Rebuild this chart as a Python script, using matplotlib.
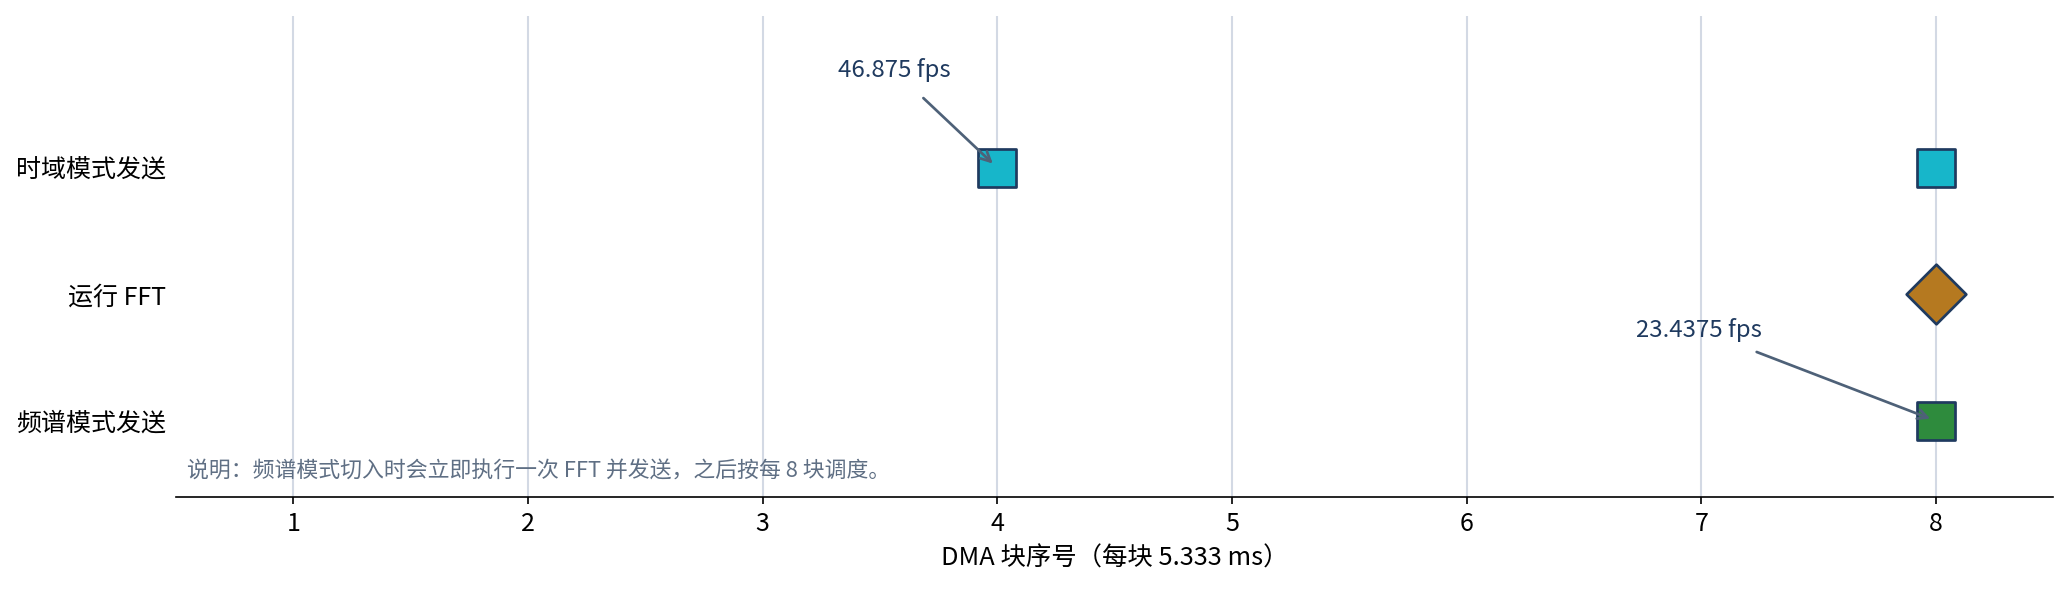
import matplotlib
matplotlib.use("Agg")
import matplotlib.pyplot as plt

plt.rcParams["font.family"] = ["Noto Sans CJK SC", "DejaVu Sans"]

# ── Data ─────────────────────────────────────────────────────────────────────
rows = ["频谱模式发送", "运行 FFT", "时域模式发送"]   # bottom -> top
time_send_blocks = [4, 8]
fft_blocks = [8]
spec_send_blocks = [8]
x_ticks = [1, 2, 3, 4, 5, 6, 7, 8]

ann_time = ("46.875 fps", 4, 2, 3.56, 2.77)
ann_spec = ("23.4375 fps", 8, 0, 6.99, 0.72)
note = "说明：频谱模式切入时会立即执行一次 FFT 并发送，之后按每 8 块调度。"

edge = "#1f3a5f"

# ── Figure ───────────────────────────────────────────────────────────────────
fig = plt.figure(figsize=(2071 / 150, 595 / 150), dpi=150)
ax = fig.add_axes([0.085, 0.165, 0.9065, 0.808])

ax.scatter(time_send_blocks, [2] * len(time_send_blocks), marker="s", s=350,
           color="#17b6ca", edgecolor=edge, linewidth=1.3, zorder=3)
ax.scatter(fft_blocks, [1] * len(fft_blocks), marker="D", s=410,
           color="#b57920", edgecolor=edge, linewidth=1.3, zorder=3)
ax.scatter(spec_send_blocks, [0] * len(spec_send_blocks), marker="s", s=350,
           color="#2e8b3d", edgecolor=edge, linewidth=1.3, zorder=3)

for label, x, y, tx, ty in [ann_time, ann_spec]:
    ax.annotate(label, xy=(x, y), xytext=(tx, ty), ha="center", va="center",
                fontsize=11.5, color=edge,
                arrowprops=dict(arrowstyle="->", color="#4e6178", lw=1.3,
                                shrinkA=8, shrinkB=3))

ax.text(0.006, 0.03, note, transform=ax.transAxes, ha="left", va="bottom",
        fontsize=10.5, color="#5f6f84")

ax.set_xlim(0.5, 8.5)
ax.set_ylim(-0.6, 3.2)
ax.set_xticks(x_ticks)
ax.set_yticks(range(len(rows)))
ax.set_yticklabels(rows)
ax.tick_params(axis="y", length=0, labelsize=12, pad=5)
ax.tick_params(axis="x", labelsize=12)
ax.set_xlabel("DMA 块序号（每块 5.333 ms）", fontsize=12.2)

ax.grid(axis="x", color="#d3d9e4", linewidth=1.0)
ax.set_axisbelow(True)
for side in ["top", "right", "left"]:
    ax.spines[side].set_visible(False)

fig.savefig("out.png", dpi=150)
plt.close(fig)
